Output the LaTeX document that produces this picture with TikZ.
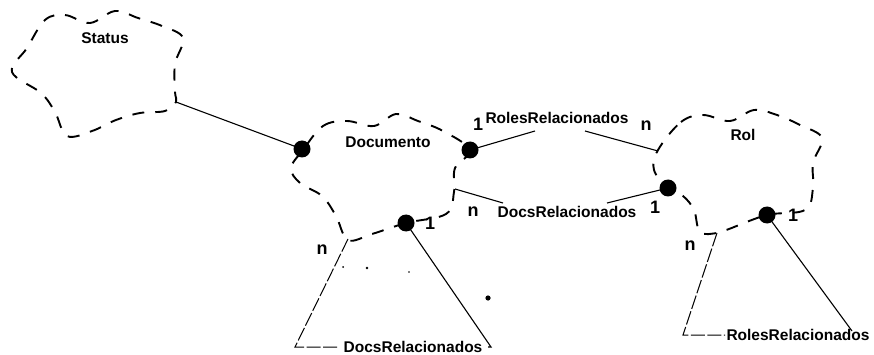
\documentclass[tikz,border=0pt]{standalone}
\usepackage{fontspec}
\setmainfont{Liberation Sans}
\begin{document}
\begin{tikzpicture}[x=1pt,y=-1pt,
  cloud/.style={draw, line width=1.9pt, dash pattern=on 12pt off 11pt},
  assoc/.style={draw, line width=1.1pt},
  faint/.style={draw, line width=1pt, dash pattern=on 14pt off 2.5pt},
  dotnode/.style={circle, fill=black, inner sep=0pt, minimum size=17pt},
  txt/.style={inner sep=0pt, font=\bfseries\fontsize{15.5}{18}\selectfont},
  mult/.style={inner sep=0pt, font=\bfseries\fontsize{18}{20}\selectfont},
  speck/.style={fill=black}]
\useasboundingbox (0,0) rectangle (874,355);

% clouds
\draw[cloud] plot[smooth cycle, tension=0.6] coordinates {
  (45,20) (65,15) (90,23) (115,11) (138,18) (162,26) (183,38) (175,64)
  (175,92) (176,102) (165,111) (140,113) (116,120) (92,131) (67,136)
  (55,112) (41,93) (12,72) (27,48)};
\draw[cloud] plot[smooth cycle, tension=0.6] coordinates {
  (303,150) (323,126) (347,121) (374,126) (396,114) (418,121) (443,131)
  (470,150) (455,168) (454,192) (446,214) (406,223) (372,234) (348,240)
  (336,216) (322,196) (300,183) (291,168)};
\draw[cloud] plot[smooth cycle, tension=0.6] coordinates {
  (658,150) (681,122) (703,115) (730,121) (754,110) (777,115) (800,125)
  (822,138) (813,163) (813,188) (805,210) (767,215) (729,229) (717,233)
  (700,232) (694,210) (683,196) (668,188) (654,170)};

% class names
\node[txt] (status) at (105,38) {Status};
\node[txt] (documento) at (388,142) {Documento};
\node[txt] (rol) at (743,135) {Rol};

% attachment points
\coordinate (stA) at (176,102);
\coordinate (rolA) at (658,151);
\coordinate (docA) at (455,189);
\coordinate (docN) at (348,239);
\coordinate (rolN) at (717,233);

% dots
\node[dotnode] (dL) at (302,149) {};
\node[dotnode] (dR) at (470,150) {};
\node[dotnode] (dB) at (406,223) {};
\node[dotnode] (rL) at (668,188) {};
\node[dotnode] (rB) at (767,215) {};

% Status -- Documento
\draw[assoc] (stA) -- (dL.center);

% RolesRelacionados (Documento -- Rol)
\node[txt] (lblRR) at (557,118) {RolesRelacionados};
\coordinate (rr1) at (535,131);
\coordinate (rr2) at (585,131);
\draw[assoc] (dR.center) -- (rr1);
\draw[assoc] (rr2) -- (rolA);
\node[mult] at (478,124) {1};
\node[mult] at (646,126) {n};

% DocsRelacionados (Documento -- Rol)
\node[txt] (lblDR) at (567,212) {DocsRelacionados};
\coordinate (dr1) at (503,203);
\coordinate (dr2) at (607,203);
\draw[assoc] (docA) -- (dr1);
\draw[assoc] (dr2) -- (rL.center);
\node[mult] at (473,212) {n};
\node[mult] at (655,207) {1};

% Documento self association
\node[txt] (lblDD) at (413,347) {DocsRelacionados};
\coordinate (dd1) at (295,347);
\coordinate (dd2) at (338,347);
\coordinate (dd3) at (491,347);
\draw[assoc] (dB.center) -- (dd3) -- ++(-3,0);
\draw[faint] (docN) -- (dd1) -- (dd2);
\node[mult] at (322,250) {n};
\node[mult] at (430,223) {1};

% Rol self association
\node[txt] (lblRRR) at (798,335) {RolesRelacionados};
\coordinate (rrr1) at (683,335);
\coordinate (rrr2) at (725,335);
\coordinate (rrr3) at (852,331);
\draw[assoc] (rB.center) -- (rrr3);
\draw[faint] (rolN) -- (rrr1) -- (rrr2);
\node[mult] at (690,246) {n};
\node[mult] at (793,215) {1};

% scan specks
\fill[speck] (343,267) circle (1pt);
\fill[speck] (367,268) circle (1.3pt);
\fill[speck] (409,272) circle (0.9pt);
\fill[speck] (488,298) circle (2.6pt);
\end{tikzpicture}
\end{document}
